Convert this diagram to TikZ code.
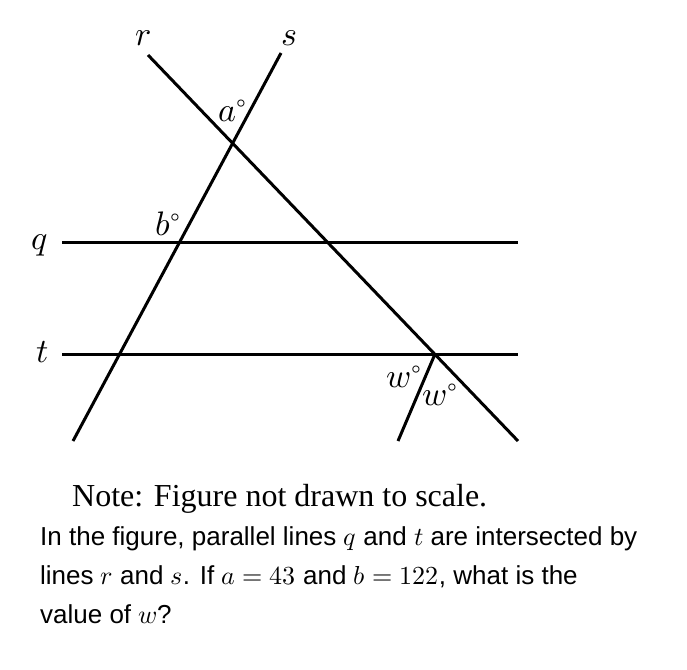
\documentclass[tikz,border=0pt]{standalone}
\usepackage{fontspec}
\usepackage{unicode-math}
\setmainfont{Liberation Sans}
\setmathfont{Latin Modern Math}
\newfontfamily\notefont{Liberation Serif}
\usetikzlibrary{positioning}

\begin{document}
\begin{tikzpicture}[
    x=1pt, y=-1pt,
    line/.style={
      draw,
      line width=3pt
    },
    label/.style={
      font=\fontsize{34}{38}\selectfont,
      inner sep=0pt
    },
    note/.style={
      anchor=base west,
      inner sep=0pt,
      font=\notefont\fontsize{32}{36}\selectfont
    },
    para/.style={
      anchor=base west,
      inner sep=0pt,
      font=\fontsize{26}{30}\selectfont
    },
]

\useasboundingbox (0,0) rectangle (687,669);

% End points
\coordinate (r1) at (148,55);
\coordinate (r2) at (518,441);
\coordinate (s1) at (281,53);
\coordinate (s2) at (73,441);
\coordinate (q1) at (62,242);
\coordinate (q2) at (518,242);
\coordinate (t1) at (62,354);
\coordinate (t2) at (518,354);
\coordinate (wtop) at (435,354);
\coordinate (wend) at (398,441);

% Lines
\draw[line] (q1) -- (q2);
\draw[line] (t1) -- (t2);
\draw[line] (r1) -- (r2);
\draw[line] (s1) -- (s2);
\draw[line] (wtop) -- (wend);

% Line names
\node[label] (rname) at (143,38) {$r$};
\node[label] (sname) at (289,38) {$s$};
\node[label] (qname) at (40,245) {$q$};
\node[label] (tname) at (43,352) {$t$};

% Angles
\node[label] (anga) at (233,111) {$a^\circ$};
\node[label] (angb) at (168,224) {$b^\circ$};
\node[label] (angw1) at (404,377) {$w^\circ$};
\node[label] (angw2) at (440,395) {$w^\circ$};

% Text
\node[note] (notetext) at (72,506) {Note: Figure not drawn to scale.};
\node[para] (line1) at (40,545) {In the figure, parallel lines $q$ and $t$ are intersected by};
\node[para] (line2) at (40,584) {lines $r$ and $s$. If $a=43$ and $b=122$, what is the};
\node[para] (line3) at (40,623) {value of $w$?};

\end{tikzpicture}
\end{document}
